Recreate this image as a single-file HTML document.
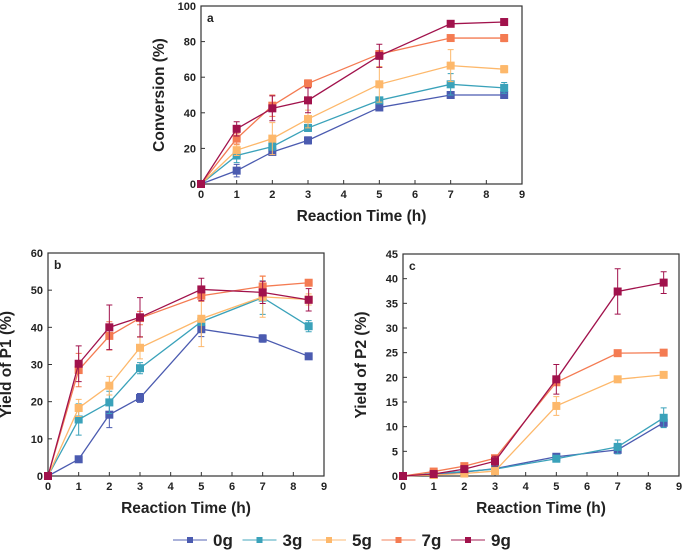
<!DOCTYPE html>
<html><head><meta charset="utf-8"><style>
body{margin:0;background:#fff;font-family:"Liberation Sans",Arial,sans-serif}
svg text{font-family:"Liberation Sans",Arial,sans-serif;font-weight:bold;fill:#222}
</style></head><body>
<svg id="c" width="685" height="551" viewBox="0 0 685 551"></svg>
<script>
const times=[0,1,2,3,5,7,8.5];
const seriesNames=["0g","3g","5g","7g","9g"];
const colors=["#4b5bb0","#3aa2ba","#fdb86b","#f47b52","#a1124c"];
const convA0=[0,7.5,18,24.5,43,50,50];
const convA3=[0,16,21,31.5,47,56,54];
const convA5=[0,19,25.5,36.5,56,66.5,64.5];
const convA7=[0,25.5,44,56.5,73,82,82];
const convA9=[0,31,42.5,47,72,90,91];
const errA0=[0,3.5,2,2,1,1,1];
const errA3=[0,4,2,2,1.5,6,3];
const errA5=[0,3,9,5,10,9,2];
const errA7=[0,3,6,2,2,1,2];
const errA9=[0,4,7,7,6.5,1,1];
const p1B0=[0,4.5,16.5,21,39.5,37,32.2];
const p1B3=[0,15.2,19.8,29,41.5,48,40.3];
const p1B5=[0,18.3,24.3,34.5,42.3,48.2,47.5];
const p1B7=[0,28.5,37.7,42.5,48.5,51,52];
const p1B9=[0,30.2,40,42.7,50.2,49.4,47.4];
const errB0=[0,0.5,3.5,1.2,2,1,0.5];
const errB3=[0,4.2,3,1.5,1,4.5,1.5];
const errB5=[0,2.3,2.5,3,7.5,5.5,1.5];
const errB7=[0,4.5,3.8,1.8,1.5,2.8,0.6];
const errB9=[0,4.8,6,5.3,3,3,3];
const p2C0=[0,0.3,0.8,1.5,3.9,5.3,10.8];
const p2C3=[0,0.5,0.9,1.4,3.5,5.9,11.8];
const p2C5=[0,0.2,0.5,1.0,14.2,19.6,20.5];
const p2C7=[0,0.9,2.0,3.6,19.0,24.9,25.0];
const p2C9=[0,0.4,1.4,3.0,19.6,37.4,39.2];
const errC0=[0,0.2,0.3,0.3,0.4,0.8,0.9];
const errC3=[0,0.2,0.3,0.3,0.4,1.4,2];
const errC5=[0,0.2,0.2,0.3,1.9,0.6,0.6];
const errC7=[0,0.2,0.4,0.6,0.5,0.2,0.2];
const errC9=[0,0.3,0.6,1,3,4.6,2.2];
const xTicks=[0,1,2,3,4,5,6,7,8,9];
const yTicksA=[0,20,40,60,80,100];
const yTicksB=[0,10,20,30,40,50,60];
const yTicksC=[0,5,10,15,20,25,30,35,40,45];

const svg=document.getElementById('c');
const NS='http://www.w3.org/2000/svg';
function mk(tag,attrs,parent){const e=document.createElementNS(NS,tag);for(const k in attrs)e.setAttribute(k,attrs[k]);(parent||svg).appendChild(e);return e;}

function panel(id,letter,box,ymax,yTicks,ytitle,data,errs){
  const g=mk('g',{});
  
  
  const [x0,x1,y0,y1]=box;
  const sx=v=>x0+(x1-x0)*v/9, sy=v=>y0-(y0-y1)*v/ymax;
  const r=mk('rect',{x:x0,y:y1,width:x1-x0,height:y0-y1,fill:'none',stroke:'#333','stroke-width':1.2},g);
  
  
  xTicks.forEach(t=>{
    mk('line',{x1:sx(t),x2:sx(t),y1:y0,y2:y0-4,stroke:'#333'},g);
    const tx=mk('text',{x:sx(t),y:y0+14,'font-size':11,'text-anchor':'middle'},g);tx.textContent=t;
    
    
  });
  yTicks.forEach(t=>{
    mk('line',{x1:x0,x2:x0+4,y1:sy(t),y2:sy(t),stroke:'#333'},g);
    const tx=mk('text',{x:x0-5,y:sy(t)+4,'font-size':11,'text-anchor':'end'},g);tx.textContent=t;
    
    
  });
  const xt=mk('text',{x:(x0+x1)/2,y:y0+37,'font-size':15.5,'text-anchor':'middle'},g);xt.textContent='Reaction Time (h)';
  
  
  const yx=x0-37, yy=(y0+y1)/2;
  const yt=mk('text',{x:yx,y:yy,'font-size':15.5,'text-anchor':'middle',transform:`rotate(-90 ${yx} ${yy})`},g);yt.textContent=ytitle;
  
  
  const lt=mk('text',{x:x0+6,y:y1+16,'font-size':12},g);lt.textContent=letter;
  
  
  data.forEach((vals,si)=>{
    const c=colors[si];
    const pts=vals.map((v,i)=>sx(times[i])+','+sy(v)).join(' ');
    const pl=mk('polyline',{points:pts,fill:'none',stroke:c,'stroke-width':1.3},g);
    
    
    vals.forEach((v,i)=>{
      const e=errs[si][i],x=sx(times[i]);
      if(e>0){
        const eb=mk('path',{d:`M${x},${sy(v+e)}V${sy(v-e)}M${x-3},${sy(v+e)}h6M${x-3},${sy(v-e)}h6`,stroke:c,'stroke-width':1,fill:'none'},g);
        
        
      }
      const m=mk('rect',{x:x-4,y:sy(v)-4,width:8,height:8,fill:c},g);
      
      
    });
  });
}
panel('a','a',[201,522,184,6],100,yTicksA,'Conversion (%)',[convA0,convA3,convA5,convA7,convA9],[errA0,errA3,errA5,errA7,errA9]);
panel('b','b',[48,324,476,253],60,yTicksB,'Yield of P1 (%)',[p1B0,p1B3,p1B5,p1B7,p1B9],[errB0,errB3,errB5,errB7,errB9]);
panel('c','c',[403,679,476,254],45,yTicksC,'Yield of P2 (%)',[p2C0,p2C3,p2C5,p2C7,p2C9],[errC0,errC3,errC5,errC7,errC9]);

const lg=mk('g',{});


seriesNames.forEach((n,i)=>{
  const lx=173+i*69.5, ly=540;
  const e=mk('g',{},lg);
  
  
  mk('line',{x1:lx,x2:lx+34,y1:ly,y2:ly,stroke:colors[i],'stroke-width':1.3,opacity:0.75},e);
  mk('rect',{x:lx+14,y:ly-3,width:6,height:6,fill:colors[i]},e);
  const t=mk('text',{x:lx+40,y:ly+6,'font-size':17},e);t.textContent=n;
});
</script>
</body></html>
